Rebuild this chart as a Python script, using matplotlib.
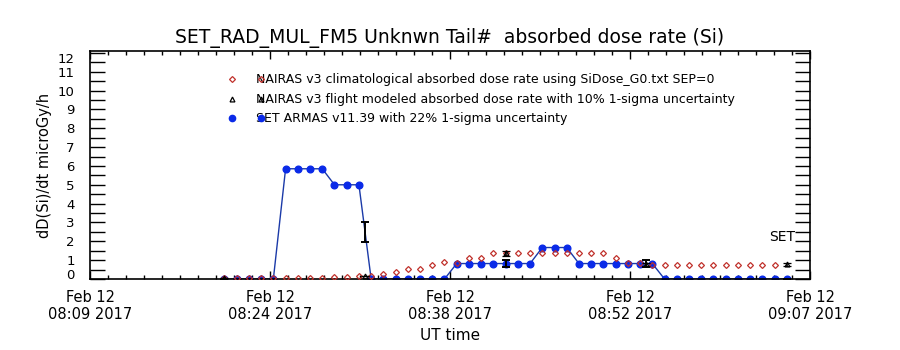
import numpy as np
import matplotlib
matplotlib.use("Agg")
import matplotlib.pyplot as plt
from matplotlib.ticker import MultipleLocator, FixedLocator

# ---------------- data ----------------
# time in minutes after 08:09 UT, one sample per minute starting at minute 11
t0 = 11
n_samples = 47
times = t0 + np.arange(n_samples)

set_armas = [0, 0, 0, 0, 0,
             5.85, 5.85, 5.85, 5.85,
             5.0, 5.0, 5.0,
             0, 0, 0, 0, 0, 0, 0,
             0.82, 0.82, 0.82, 0.82, 0.82, 0.82, 0.82,
             1.67, 1.67, 1.67,
             0.82, 0.82, 0.82, 0.82, 0.82, 0.82, 0.82,
             0, 0, 0, 0, 0, 0, 0, 0, 0, 0, 0]

nairas_clim = [0.05, 0.05, 0.05, 0.05, 0.05, 0.05, 0.05, 0.05, 0.05,
               0.1, 0.1, 0.15, 0.15, 0.25, 0.35, 0.52, 0.52, 0.74, 0.88,
               0.85, 1.1, 1.1,
               1.36, 1.36, 1.36, 1.36, 1.36, 1.36, 1.36, 1.36, 1.36, 1.36,
               1.1, 0.87, 0.87,
               0.76, 0.76, 0.76, 0.76, 0.76, 0.76, 0.76, 0.76, 0.76, 0.76, 0.76]

flight_times = [11, 22.5, 34, 45.5, 57]
nairas_flight = [0.05, 0.15, 1.36, 0.78, 0.78]
set_err_vals = [0.0, 2.5, 0.82, 0.82, 0.0]

xlim = (0, 58.9)
xtick_labels = ["Feb 12\n08:09 2017", "Feb 12\n08:24 2017", "Feb 12\n08:38 2017",
                "Feb 12\n08:52 2017", "Feb 12\n09:07 2017"]
ylim = (0, 12.1)

legend_labels = ["NAIRAS v3 climatological absorbed dose rate using SiDose_G0.txt SEP=0",
                 "NAIRAS v3 flight modeled absorbed dose rate with 10% 1-sigma uncertainty",
                 "SET ARMAS v11.39 with 22% 1-sigma uncertainty"]
title = "SET_RAD_MUL_FM5 Unknwn Tail#  absorbed dose rate (Si)"

# ---------------- figure ----------------
plt.rcParams['font.family'] = ['DejaVu Sans']
fig = plt.figure(figsize=(9, 3.5), dpi=100)
ax = fig.add_axes([0.1, 71 / 350, 0.8, 228 / 350])

blue_m = '#0a2ae8'
blue_l = '#1b3aa8'
red = '#c0302a'

ax.plot(times, set_armas, '-', color=blue_l, lw=1.0, zorder=2)
ax.plot(times, set_armas, 'o', color=blue_m, ms=4.8, mec=blue_m, zorder=2.5)
ax.plot(times[:len(nairas_clim)], nairas_clim, 'D', ms=3.0, mfc='none', mec=red, mew=0.9,
        zorder=3)

# SET ARMAS 22% error bars
ax.errorbar(flight_times, set_err_vals, yerr=0.22 * np.array(set_err_vals), fmt='none',
            ecolor='black', elinewidth=1.4, capsize=3.2, capthick=1.4, zorder=4)
# NAIRAS flight 10% error bars
ax.errorbar(flight_times, nairas_flight, yerr=0.10 * np.array(nairas_flight), fmt='^',
            ms=3.5, mfc='none', mec='black', mew=0.9, ecolor='black', elinewidth=1.2,
            capsize=3.2, capthick=1.2, zorder=5)

ax.set_xlim(*xlim)
ax.set_ylim(*ylim)

xt = np.linspace(xlim[0], xlim[1], len(xtick_labels))
ax.set_xticks(xt)
ax.set_xticklabels(xtick_labels, fontsize=10.5, linespacing=1.15)
ax.xaxis.set_minor_locator(FixedLocator(np.linspace(xlim[0], xlim[1], 41)))
ax.tick_params(axis='x', which='major', direction='in', length=5.5, width=1,
               top=True, bottom=True, pad=8)
ax.tick_params(axis='x', which='minor', direction='in', length=3, width=1,
               top=True, bottom=True)

yt = np.arange(0, 13, 1)
ax.set_yticks(yt)
ax.set_yticklabels([str(v) for v in yt], fontsize=9.5)
ax.yaxis.set_minor_locator(MultipleLocator(0.5))
ax.tick_params(axis='y', which='both', direction='in', length=10.5, width=1,
               left=True, right=True, pad=11)
ylabs = ax.get_yticklabels()
ylabs[0].set_va('baseline')
ylabs[-1].set_va('top')

for s in ax.spines.values():
    s.set_linewidth(1.2)

# legend drawn as text, IDL style
leg_y = [0.877, 0.789, 0.706]
ax.plot([0.197, 0.2375], [leg_y[0]] * 2, 'D', ms=3.0, mfc='none', mec=red, mew=0.9,
        transform=ax.transAxes, clip_on=False, zorder=6)
ax.plot([0.197, 0.2375], [leg_y[1]] * 2, '^', ms=3.5, mfc='none', mec='black', mew=0.9,
        transform=ax.transAxes, clip_on=False, zorder=6)
ax.plot([0.197, 0.2375], [leg_y[2]] * 2, 'o', ms=4.5, color=blue_m,
        transform=ax.transAxes, clip_on=False, zorder=6)
for y, lab in zip(leg_y, legend_labels):
    ax.text(0.2306, y, lab, transform=ax.transAxes, fontsize=9, va='center', ha='left')

ax.text(0.979, 0.184, "SET", transform=ax.transAxes, fontsize=10, va='center', ha='right')

fig.text(0.5, 1 - 38 / 350, title, fontsize=13.5, ha='center', va='center')
fig.text(0.05, 1 - 165 / 350, "dD(Si)/dt microGy/h", rotation=90, fontsize=10.5,
         ha='center', va='center')
fig.text(0.5, 1 - 336 / 350, "UT time", fontsize=11, ha='center', va='center')

fig.savefig("out.png", dpi=100)
